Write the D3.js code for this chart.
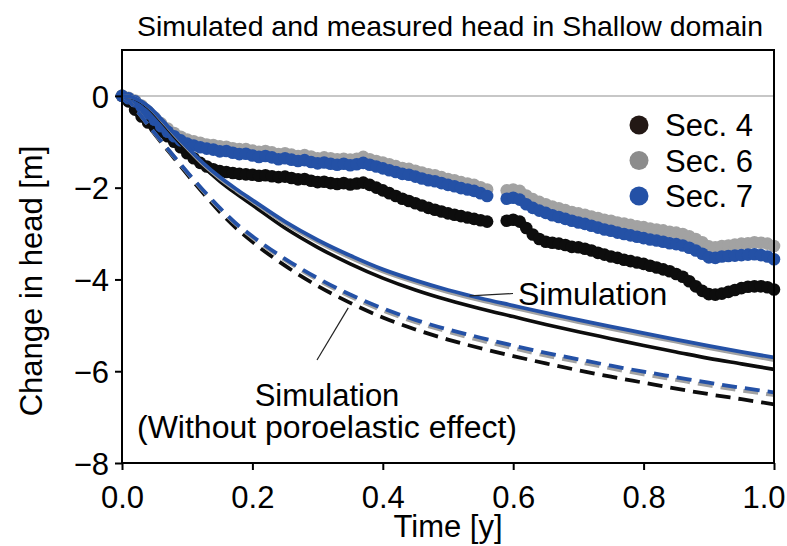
<!DOCTYPE html>
<html>
<head>
<meta charset="utf-8">
<script src="https://cdn.jsdelivr.net/npm/d3@7"></script>
<style>
  html, body { margin: 0; padding: 0; background: #fff; }
  svg { display: block; font-family: "Liberation Sans", Arial, Helvetica, sans-serif; }
</style>
</head>
<body>
<svg id="chart" width="787" height="546"></svg>
<script>
// ---- measured head change [m], sampled every 0.01 y (null = no record) ----
const measuredStep = 0.01;
const sec4 = [
  0.00,-0.12,-0.30,-0.45,-0.58,-0.68,-0.78,-0.88,-1.00,-1.12,
  -1.25,-1.36,-1.46,-1.54,-1.60,-1.64,-1.66,-1.68,-1.70,-1.71,
  -1.72,-1.74,-1.73,-1.75,-1.77,-1.76,-1.79,-1.82,-1.81,-1.85,
  -1.88,-1.87,-1.90,-1.92,-1.90,-1.93,-1.91,-1.89,-1.94,-2.00,
  -2.06,-2.12,-2.18,-2.24,-2.29,-2.34,-2.39,-2.44,-2.48,-2.52,
  -2.56,-2.59,-2.62,-2.65,-2.68,-2.71,-2.74,null,null,-2.72,
  -2.70,-2.74,-2.88,-3.02,-3.12,-3.18,-3.20,-3.22,-3.25,-3.29,
  -3.30,-3.33,-3.37,-3.42,-3.46,-3.50,-3.53,-3.57,-3.60,-3.63,
  -3.66,-3.70,-3.74,-3.78,-3.82,-3.88,-3.94,-4.04,-4.15,-4.25,
  -4.32,-4.33,-4.31,-4.27,-4.23,-4.19,-4.16,-4.15,-4.15,-4.17,
  -4.22
];
const sec6 = [
  0.00,-0.04,-0.10,-0.21,-0.34,-0.47,-0.60,-0.71,-0.81,-0.89,
  -0.95,-0.99,-1.02,-1.06,-1.07,-1.10,-1.11,-1.14,-1.16,-1.16,
  -1.19,-1.22,-1.20,-1.23,-1.27,-1.25,-1.28,-1.31,-1.29,-1.32,
  -1.36,-1.34,-1.36,-1.38,-1.37,-1.39,-1.37,-1.33,-1.38,-1.42,
  -1.45,-1.49,-1.53,-1.57,-1.59,-1.63,-1.67,-1.71,-1.73,-1.77,
  -1.81,-1.84,-1.88,-1.91,-1.94,-1.99,-2.04,null,null,-2.06,
  -2.04,-2.07,-2.17,-2.25,-2.31,-2.36,-2.41,-2.45,-2.49,-2.53,
  -2.56,-2.59,-2.63,-2.66,-2.70,-2.72,-2.76,-2.78,-2.81,-2.84,
  -2.86,-2.89,-2.91,-2.93,-2.96,-2.98,-3.01,-3.06,-3.12,-3.19,
  -3.28,-3.30,-3.27,-3.26,-3.24,-3.22,-3.21,-3.19,-3.20,-3.22,
  -3.27
];
const sec7 = [
  0.00,-0.05,-0.12,-0.24,-0.38,-0.52,-0.66,-0.78,-0.88,-0.97,
  -1.04,-1.08,-1.12,-1.15,-1.17,-1.21,-1.20,-1.24,-1.27,-1.26,
  -1.30,-1.33,-1.31,-1.34,-1.38,-1.36,-1.39,-1.42,-1.40,-1.44,
  -1.47,-1.45,-1.48,-1.50,-1.48,-1.51,-1.49,-1.46,-1.50,-1.54,
  -1.58,-1.62,-1.66,-1.70,-1.72,-1.76,-1.80,-1.84,-1.86,-1.90,
  -1.94,-1.97,-2.01,-2.04,-2.07,-2.12,-2.18,null,null,-2.24,
  -2.22,-2.26,-2.36,-2.44,-2.50,-2.55,-2.60,-2.64,-2.68,-2.72,
  -2.76,-2.79,-2.83,-2.87,-2.91,-2.94,-2.98,-3.01,-3.04,-3.07,
  -3.10,-3.13,-3.15,-3.18,-3.21,-3.23,-3.26,-3.31,-3.37,-3.44,
  -3.52,-3.53,-3.50,-3.49,-3.48,-3.47,-3.46,-3.45,-3.47,-3.50,
  -3.56
];

// ---- simulated head change [m] ----
const simTime = [0,0.01,0.02,0.04,0.06,0.08,0.10,0.125,0.15,0.175,0.20,
  0.25,0.30,0.35,0.40,0.45,0.50,0.55,0.60,0.65,0.70,0.75,0.80,0.85,0.90,0.95,1.00];
// with poroelastic effect (solid)
const simSec4 = [0,-0.01,-0.06,-0.25,-0.55,-0.88,-1.19,-1.55,-1.86,-2.13,-2.38,
  -2.88,-3.30,-3.66,-3.97,-4.23,-4.45,-4.64,-4.81,-4.98,-5.14,-5.29,-5.44,-5.58,-5.72,-5.84,-5.96];
const simSec6 = [0,-0.01,-0.05,-0.23,-0.52,-0.84,-1.14,-1.50,-1.80,-2.06,-2.30,
  -2.78,-3.18,-3.53,-3.83,-4.07,-4.28,-4.46,-4.62,-4.78,-4.93,-5.08,-5.22,-5.36,-5.50,-5.63,-5.76];
const simSec7 = [0,-0.01,-0.05,-0.22,-0.50,-0.82,-1.12,-1.47,-1.77,-2.03,-2.27,
  -2.74,-3.14,-3.48,-3.78,-4.02,-4.23,-4.41,-4.57,-4.73,-4.88,-5.03,-5.17,-5.31,-5.45,-5.58,-5.70];
// without poroelastic effect (dashed)
const noPoroSec4 = [0,-0.10,-0.28,-0.65,-1.01,-1.36,-1.71,-2.13,-2.53,-2.88,-3.18,
  -3.70,-4.14,-4.51,-4.83,-5.09,-5.31,-5.50,-5.67,-5.83,-5.98,-6.12,-6.25,-6.38,-6.50,-6.61,-6.72];
const noPoroSec6 = [0,-0.10,-0.27,-0.635,-0.99,-1.33,-1.67,-2.08,-2.46,-2.80,-3.09,
  -3.58,-4.01,-4.37,-4.68,-4.93,-5.14,-5.33,-5.50,-5.66,-5.80,-5.94,-6.07,-6.19,-6.31,-6.42,-6.52];
const noPoroSec7 = [0,-0.10,-0.27,-0.63,-0.98,-1.32,-1.66,-2.06,-2.44,-2.78,-3.06,
  -3.55,-3.97,-4.33,-4.63,-4.88,-5.09,-5.27,-5.44,-5.60,-5.74,-5.88,-6.01,-6.13,-6.25,-6.36,-6.46];

// ---- axes and labels ----
const xTicks = [0, 0.2, 0.4, 0.6, 0.8, 1.0];
const yTicks = [0, -2, -4, -6, -8];
const legendLabels = ["Sec. 4", "Sec. 6", "Sec. 7"];
const colors = { sec4: "#0d0d0d", sec6: "#a2a2a2", sec7: "#2451a6" };
const legendColors = ["#231815", "#8c8c8c", "#2451a6"];

const svg = d3.select("#chart");
const plot = { left: 122, right: 774, top: 50, bottom: 463 };

const x = d3.scaleLinear().domain([0, 1]).range([plot.left, plot.right]);
const y = d3.scaleLinear().domain([-8, 1]).range([plot.bottom, plot.top]);

// title (fitted to the plot width)
svg.append("text")
  .attr("x", 450).attr("y", 36)
  .attr("text-anchor", "middle")
  .attr("font-size", 28)
  .attr("textLength", 626).attr("lengthAdjust", "spacingAndGlyphs")
  .text("Simulated and measured head in Shallow domain");

// zero reference line
svg.append("line")
  .attr("x1", plot.left).attr("x2", plot.right)
  .attr("y1", y(0)).attr("y2", y(0))
  .attr("stroke", "#b4b4b4").attr("stroke-width", 1.5);

// measured points
function measuredPoints(vals) {
  return vals.map((v, i) => ({ t: i * measuredStep, v })).filter(d => d.v !== null);
}
const measuredSeries = [
  { vals: sec4, color: colors.sec4 },
  { vals: sec6, color: colors.sec6 },
  { vals: sec7, color: colors.sec7 }
];
measuredSeries.forEach(s => {
  svg.append("g").selectAll("circle")
    .data(measuredPoints(s.vals))
    .join("circle")
    .attr("cx", d => x(d.t))
    .attr("cy", d => y(d.v))
    .attr("r", 6.3)
    .attr("fill", s.color);
});

// simulated curves
const line = d3.line()
  .x((d, i) => x(simTime[i]))
  .y(d => y(d))
  .curve(d3.curveMonotoneX);

const dashedSeries = [
  { vals: noPoroSec4, color: "#0d0d0d", w: 3.8 },
  { vals: noPoroSec6, color: "#a2a2a2", w: 3.8 },
  { vals: noPoroSec7, color: colors.sec7, w: 3.8 }
];
dashedSeries.forEach(s => {
  svg.append("path")
    .attr("d", line(s.vals))
    .attr("fill", "none")
    .attr("stroke", s.color)
    .attr("stroke-width", s.w)
    .attr("stroke-dasharray", "15,8");
});

const solidSeries = [
  { vals: simSec4, color: "#0d0d0d", w: 3.6 },
  { vals: simSec6, color: "#a2a2a2", w: 3.6 },
  { vals: simSec7, color: colors.sec7, w: 3.8 }
];
solidSeries.forEach(s => {
  svg.append("path")
    .attr("d", line(s.vals))
    .attr("fill", "none")
    .attr("stroke", s.color)
    .attr("stroke-width", s.w);
});

// annotations
svg.append("line")
  .attr("x1", x(0.533)).attr("y1", y(-4.36))
  .attr("x2", 513).attr("y2", 293.5)
  .attr("stroke", "#222").attr("stroke-width", 1.2);
svg.append("text")
  .attr("x", 518).attr("y", 305)
  .attr("font-size", 32)
  .text("Simulation");

svg.append("line")
  .attr("x1", x(0.347)).attr("y1", y(-4.62))
  .attr("x2", 317).attr("y2", 360)
  .attr("stroke", "#222").attr("stroke-width", 1.2);
svg.append("text")
  .attr("x", 327).attr("y", 406)
  .attr("text-anchor", "middle")
  .attr("font-size", 31)
  .text("Simulation");
svg.append("text")
  .attr("x", 327).attr("y", 438)
  .attr("text-anchor", "middle")
  .attr("font-size", 31)
  .attr("textLength", 380).attr("lengthAdjust", "spacingAndGlyphs")
  .text("(Without poroelastic effect)");

// legend
const legend = svg.append("g");
legendLabels.forEach((lab, i) => {
  const cy = 125 + i * 35.5;
  legend.append("circle")
    .attr("cx", 639).attr("cy", cy).attr("r", 9.5)
    .attr("fill", legendColors[i]);
  legend.append("text")
    .attr("x", 665).attr("y", cy + 11)
    .attr("font-size", 31)
    .text(lab);
});

// frame
svg.append("rect")
  .attr("x", plot.left).attr("y", plot.top)
  .attr("width", plot.right - plot.left)
  .attr("height", plot.bottom - plot.top)
  .attr("fill", "none").attr("stroke", "#000").attr("stroke-width", 2);

// axes
const xAxis = svg.append("g")
  .attr("transform", `translate(0,${plot.bottom})`)
  .call(d3.axisBottom(x).tickValues(xTicks).tickFormat(d3.format(".1f")).tickSize(7).tickSizeOuter(0));
const yAxis = svg.append("g")
  .attr("transform", `translate(${plot.left},0)`)
  .call(d3.axisLeft(y).tickValues(yTicks).tickFormat(d => d < 0 ? "\u2212" + Math.abs(d) : d).tickSize(7).tickSizeOuter(0));

[xAxis, yAxis].forEach(g => {
  g.select(".domain").remove();
  g.selectAll(".tick line").attr("stroke", "#000").attr("stroke-width", 2);
  g.selectAll(".tick text")
    .attr("fill", "#000")
    .attr("font-size", 31)
    .attr("font-family", "\"Liberation Sans\", Arial, sans-serif");
});
xAxis.selectAll(".tick text").attr("dy", "0.71em").attr("y", 23);
// keep the last x label inside the canvas
xAxis.selectAll(".tick text").filter(d => d === 1).attr("text-anchor", "end").attr("x", 11);
yAxis.selectAll(".tick text").attr("x", -13).attr("dy", "0.36em");

// axis titles
svg.append("text")
  .attr("x", (plot.left + plot.right) / 2).attr("y", 537)
  .attr("text-anchor", "middle")
  .attr("font-size", 31)
  .text("Time [y]");
svg.append("text")
  .attr("transform", "translate(42,281) rotate(-90)")
  .attr("text-anchor", "middle")
  .attr("font-size", 31)
  .text("Change in head [m]");
</script>
</body>
</html>
